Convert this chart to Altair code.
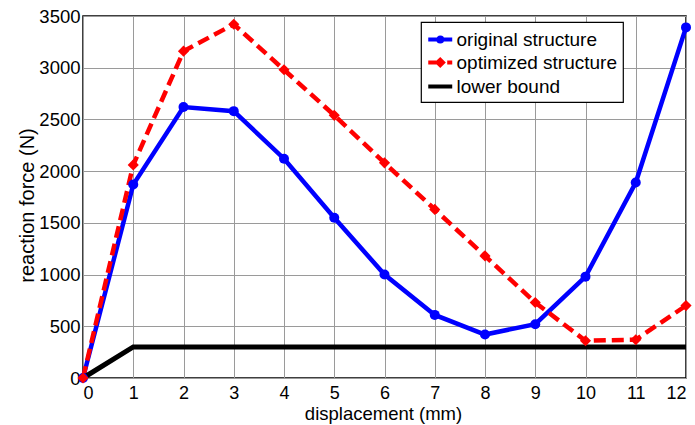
import altair as alt
import pandas as pd

# ---- data ----
displacement = [0, 1, 2, 3, 4, 5, 6, 7, 8, 9, 10, 11, 12]
original_structure = [0, 1870, 2620, 2580, 2120, 1550, 1000, 610, 420, 520, 980, 1890, 3390]
optimized_structure = [0, 2060, 3160, 3420, 2980, 2540, 2080, 1630, 1180, 730, 360, 370, 700]
lower_bound = [0, 300, 300, 300, 300, 300, 300, 300, 300, 300, 300, 300, 300]

series_names = ["original structure", "optimized structure", "lower bound"]
series_colors = ["#0000ff", "#ff0000", "#000000"]
x_ticks = list(range(0, 13))
y_ticks = [0, 500, 1000, 1500, 2000, 2500, 3000, 3500]

rows = []
for name, vals in zip(series_names, [original_structure, optimized_structure, lower_bound]):
    for xv, yv in zip(displacement, vals):
        rows.append({"x": xv, "y": yv, "series": name})
df = pd.DataFrame(rows)

FONT = "Liberation Sans"

x_enc = alt.X(
    "x:Q",
    scale=alt.Scale(domain=[0, 12], nice=False, zero=False),
    axis=alt.Axis(values=x_ticks, title="displacement (mm)", format="d",
                  titleX=300, titleY=41, titleBaseline="alphabetic"),
)
y_enc = alt.Y(
    "y:Q",
    scale=alt.Scale(domain=[0, 3500], nice=False),
    axis=alt.Axis(values=y_ticks, title="reaction force (N)", format="d",
                  titleX=-50, titleY=189, titleBaseline="alphabetic", titleFontSize=20),
)

base = alt.Chart(df)


def series_layer(name):
    return base.transform_filter(alt.datum.series == name)


line_orig = series_layer(series_names[0]).mark_line(color=series_colors[0], strokeWidth=4.5).encode(x=x_enc, y=y_enc)
line_opt = series_layer(series_names[1]).mark_line(color=series_colors[1], strokeWidth=4.5, strokeDash=[12, 6]).encode(x=x_enc, y=y_enc)
line_low = series_layer(series_names[2]).mark_line(color=series_colors[2], strokeWidth=5).encode(x=x_enc, y=y_enc)
pts_orig = series_layer(series_names[0]).mark_point(shape="circle", filled=True, color=series_colors[0], size=100, opacity=1).encode(x=x_enc, y=y_enc)
pts_opt = series_layer(series_names[1]).mark_point(shape="diamond", filled=True, color=series_colors[1], size=125, opacity=1).encode(x=x_enc, y=y_enc)

# legend-only layer (no marks drawn; the legend comes from explicit scale domains)
legend_paths = [
    "M-1.0,0H1.34M-0.03,0A0.2,0.2 0 1,0 0.37,0A0.2,0.2 0 1,0 -0.03,0Z",
    "M-1.0,0H-0.22M-0.1,0L0.17,-0.27L0.44,0L0.17,0.27ZM0.85,0H1.34",
    "M-1.0,0H1.34",
]
legend_layer = base.transform_filter("false").mark_point(filled=False, strokeWidth=4, opacity=1).encode(
    x=x_enc,
    y=y_enc,
    color=alt.Color("series:N", scale=alt.Scale(domain=series_names, range=series_colors), legend=alt.Legend(title=None)),
    shape=alt.Shape("series:N", scale=alt.Scale(domain=series_names, range=legend_paths), legend=alt.Legend(title=None)),
)

chart = alt.layer(line_orig, line_opt, line_low, pts_orig, pts_opt, legend_layer).properties(
    width=603,
    height=362,
    autosize=alt.AutoSizeParams(type="none"),
    padding={"left": 83, "top": 16, "right": 9, "bottom": 47},
    background="white",
).configure_view(
    stroke="black", strokeWidth=1.5
).configure_axis(
    domain=False,
    grid=True,
    gridColor="#9a9a9a",
    gridWidth=1,
    ticks=False,
    tickSize=0,
    labelFont=FONT,
    labelFontSize=18.5,
    labelColor="#000000",
    titleFont=FONT,
    titleFontSize=18.5,
    titleFontWeight="normal",
    titleColor="#000000",
).configure_axisX(
    labelPadding=6,
    labelFontSize=18,
).configure_axisY(
    labelPadding=3,
).configure_legend(
    orient="none",
    legendX=338,
    legendY=6,
    fillColor="white",
    strokeColor="black",
    strokeWidth=1.2,
    padding=5,
    cornerRadius=0,
    symbolSize=420,
    symbolStrokeWidth=4,
    symbolOpacity=1,
    labelFont=FONT,
    labelFontSize=19,
    labelColor="#000000",
    labelOffset=5.5,
    rowPadding=0,
    labelLimit=300,
)

chart.save("out.html", embed_options={"renderer": "svg", "actions": False})
